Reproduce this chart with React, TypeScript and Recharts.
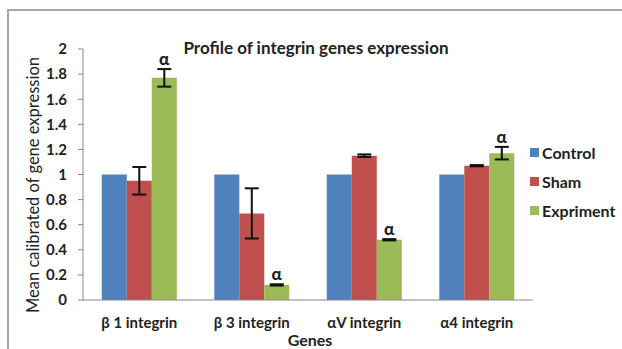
import React from "react";
import { BarChart, Bar, XAxis, YAxis, ErrorBar, LabelList } from "recharts";

const genes = ["β 1 integrin", "β 3 integrin", "αV integrin", "α4 integrin"];
const controlValues = [1, 1, 1, 1];
const shamValues = [0.95, 0.69, 1.15, 1.07];
const shamErrors = [0.11, 0.2, 0.01, 0.005];
const exprimentValues = [1.77, 0.12, 0.48, 1.17];
const exprimentErrors = [0.07, 0.005, 0.005, 0.05];
const significance = ["α", "α", "α", "α"];
const yTicks = [0, 0.2, 0.4, 0.6, 0.8, 1, 1.2, 1.4, 1.6, 1.8, 2];
const edgeTicks = [0, 1, 2, 3, 4];

const data = genes.map((g, i) => ({
  gene: g,
  Control: controlValues[i],
  Sham: shamValues[i],
  shamErr: shamErrors[i],
  Expriment: exprimentValues[i],
  expErr: exprimentErrors[i],
  sig: significance[i],
}));

const FONT = "Lato, 'Open Sans', sans-serif";
const COLORS = { Control: "#4F81BD", Sham: "#C0504D", Expriment: "#9BBB59" };

const AlphaLabel = (props: any) => {
  const { x, y, width, height, index } = props;
  const v = exprimentValues[index];
  const e = exprimentErrors[index];
  const pxPerUnit = v ? height / v : 0;
  const top = y - e * pxPerUnit;
  return (
    <text
      x={x + width / 2}
      y={top - 4}
      textAnchor="middle"
      fontFamily={FONT}
      fontWeight="900"
      fontSize={17}
      fill="#222"
    >
      {significance[index]}
    </text>
  );
};

export default function App() {
  return (
    <div
      style={{
        position: "absolute",
        left: 0,
        top: 0,
        width: 622,
        height: 349,
        overflow: "hidden",
        background: "#fff",
        fontFamily: FONT,
      }}
    >
      <div
        style={{
          position: "absolute",
          left: 7,
          top: 9,
          width: 700,
          height: 400,
          border: "2px solid #a6a6a6",
        }}
      />
      <div style={{ position: "absolute", left: 0, top: 0 }}>
        <BarChart
          width={622}
          height={349}
          data={data}
          margin={{ top: 49, right: 89, bottom: 19, left: 0 }}
          barCategoryGap="16.7%"
          barGap={0}
        >
          <XAxis
            xAxisId="edges"
            type="number"
            domain={[0, 4]}
            ticks={edgeTicks}
            height={0}
            axisLine={false}
            tickLine={{ stroke: "#868686" }}
            tickSize={5}
            tickFormatter={() => ""}
          />
          <XAxis
            dataKey="gene"
            height={30}
            axisLine={{ stroke: "#868686" }}
            tickLine={false}
            tickMargin={11}
            tick={{ fontFamily: FONT, fontWeight: "bold", fontSize: 15, fill: "#222" }}
          />
          <YAxis
            width={83}
            domain={[0, 2]}
            ticks={yTicks}
            axisLine={{ stroke: "#868686" }}
            tickLine={{ stroke: "#868686" }}
            tickSize={5}
            tickMargin={11}
            interval={0}
            tick={{ fontFamily: FONT, fontWeight: "bold", fontSize: 15, fill: "#222" }}
          />
          <Bar dataKey="Control" fill={COLORS.Control} isAnimationActive={false} />
          <Bar dataKey="Sham" fill={COLORS.Sham} isAnimationActive={false}>
            <ErrorBar dataKey="shamErr" width={7} stroke="#111" strokeWidth={2} />
          </Bar>
          <Bar dataKey="Expriment" fill={COLORS.Expriment} isAnimationActive={false}>
            <ErrorBar dataKey="expErr" width={7} stroke="#111" strokeWidth={2} />
            <LabelList dataKey="sig" content={<AlphaLabel />} />
          </Bar>
        </BarChart>
      </div>
      <div
        style={{
          position: "absolute",
          left: 0,
          width: 632,
          top: 37,
          textAlign: "center",
          fontWeight: "bold",
          fontSize: 17,
          color: "#222",
        }}
      >
        Profile of integrin genes expression
      </div>
      <div
        style={{
          position: "absolute",
          left: 0,
          width: 620,
          top: 330,
          textAlign: "center",
          fontWeight: "bold",
          fontSize: 16,
          color: "#222",
        }}
      >
        Genes
      </div>
      <div
        style={{
          position: "absolute",
          left: 33,
          top: 185,
          transform: "translate(-50%, -50%) rotate(-90deg)",
          whiteSpace: "nowrap",
          fontSize: 16.5,
          color: "#222",
        }}
      >
        Mean calibrated of gene expression
      </div>
      <div style={{ position: "absolute", left: 530, top: 138 }}>
        {(["Control", "Sham", "Expriment"] as const).map((k) => (
          <div
            key={k}
            style={{ display: "flex", alignItems: "center", height: 29, fontWeight: "bold", fontSize: 16, color: "#222" }}
          >
            <span style={{ width: 9, height: 9, background: COLORS[k], marginRight: 3, display: "inline-block" }} />
            {k}
          </div>
        ))}
      </div>
    </div>
  );
}
